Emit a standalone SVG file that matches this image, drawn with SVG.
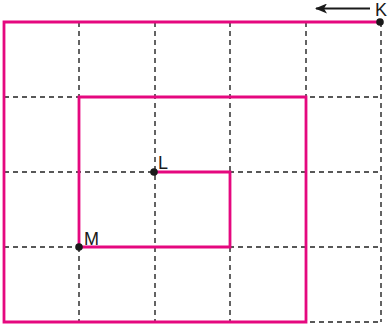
<svg xmlns="http://www.w3.org/2000/svg" width="390" height="330" viewBox="0 0 390 330">
<style>
.grid{stroke:#222;stroke-width:1.4;stroke-dasharray:5,4;fill:none}
.path{stroke:#e5087f;stroke-width:2.8;fill:none;stroke-linejoin:miter}
.dot{fill:#1a1a1a}
.lbl{font-family:"Liberation Sans",Arial,sans-serif;font-size:18px;fill:#1a1a1a}
</style>
<defs>
<marker id="ah" viewBox="0 0 12 10" refX="11" refY="5" markerWidth="12" markerHeight="10" markerUnits="userSpaceOnUse" orient="auto">
<path d="M0,0 L12,5 L0,10 L3,5 Z" fill="#1a1a1a"/>
</marker>
</defs>
<rect width="390" height="330" fill="#fff"/>
<g id="grid" class="grid">
<path d="M4,97H381M4,172H381M4,247H381M4,322H381M79,22V322M155,22V322M230,22V322M306,22V322M381,22V322"/>
</g>
<g id="connectors">
<path class="path" d="M381,22H4V322H306V97H79V247H230V172H155"/>
<line x1="370" y1="8.5" x2="316" y2="8.5" stroke="#1a1a1a" stroke-width="1.8" marker-end="url(#ah)"/>
</g>
<g id="K"><circle class="dot" cx="380" cy="22" r="3.8"/><text class="lbl" x="375" y="16" font-size="17">K</text></g>
<g id="L"><circle class="dot" cx="154" cy="172" r="3.8"/><text class="lbl" x="158" y="169">L</text></g>
<g id="M"><circle class="dot" cx="79" cy="247" r="3.8"/><text class="lbl" x="84" y="245">M</text></g>
</svg>
